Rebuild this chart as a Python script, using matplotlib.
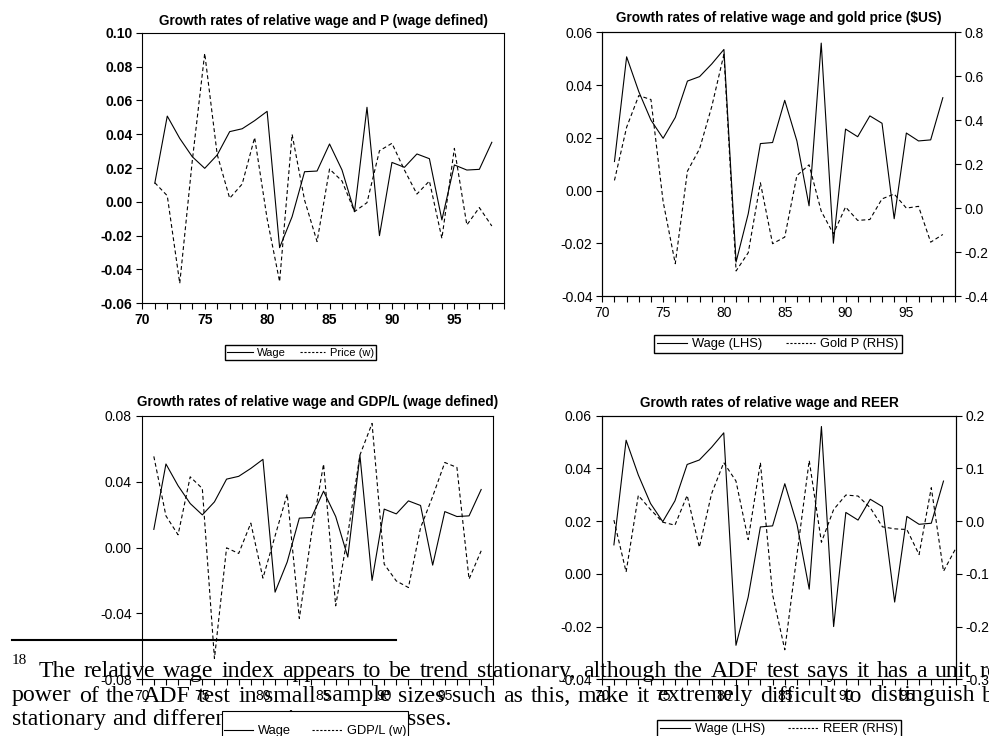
import matplotlib.pyplot as plt
from matplotlib.ticker import MultipleLocator, FormatStrFormatter
from matplotlib.lines import Line2D
from matplotlib.patches import Rectangle

# annual data, 1971-1998 (years shown as 2 digits like in EViews)
years = list(range(71, 99))
wage = [0.011, 0.0507, 0.0375, 0.0267, 0.0198, 0.0277, 0.0415, 0.0432, 0.048, 0.0535,
        -0.0271, -0.0088, 0.0178, 0.0182, 0.0342, 0.0188, -0.0058, 0.0559, -0.020, 0.0233,
        0.0204, 0.0283, 0.0255, -0.0107, 0.0218, 0.0188, 0.0192, 0.0352]
price_w = [0.0113, 0.0036, -0.0482, 0.024, 0.0878, 0.028, 0.0021, 0.0105, 0.038, -0.010,
           -0.0472, 0.0399, 0.001, -0.0235, 0.0194, 0.0123, -0.0058, -0.0005, 0.0302, 0.0346,
           0.0188, 0.0046, 0.0123, -0.0216, 0.0316, -0.0137, -0.0034, -0.0143]
gold_p = [0.126, 0.368, 0.512, 0.494, 0.03, -0.253, 0.168, 0.27, 0.462, 0.70,
          -0.286, -0.203, 0.115, -0.162, -0.132, 0.148, 0.197, -0.014, -0.117, 0.005,
          -0.056, -0.052, 0.042, 0.064, 0.0, 0.008, -0.155, -0.12]
gdp_l = [0.0553, 0.0192, 0.0077, 0.0429, 0.0358, -0.0674, -0.0002, -0.0036, 0.0148, -0.0186,
         0.007, 0.0324, -0.0431, 0.008, 0.0506, -0.0354, 0.008, 0.0561, 0.0753, -0.0101,
         -0.0203, -0.0243, 0.012, 0.031, 0.0516, 0.0486, -0.0192, -0.002]
reer_years = list(range(71, 100))
reer = [0.002, -0.0964, 0.0488, 0.022, -0.002, -0.0076, 0.0488, -0.0495, 0.052, 0.111,
        0.076, -0.035, 0.111, -0.1395, -0.244, -0.063, 0.115, -0.040, 0.022, 0.0495,
        0.0476, 0.0254, -0.0108, -0.0146, -0.0159, -0.0634, 0.0634, -0.0951, -0.052]

footnote = ["The relative wage index appears to be trend stationary, although the ADF test says it has a unit root. The low",
            "power of the ADF test in small sample sizes such as this, make it extremely difficult to distinguish between trend",
            "stationary and difference stationary processes."]

W, H = 989, 736
fig = plt.figure(figsize=(W / 100, H / 100), dpi=100)
plt.rcParams['font.family'] = ['Liberation Sans', 'DejaVu Sans']

DASH = (0, (3.5, 2.5))


def add_box(l, t, r, b):
    return fig.add_axes([l / W, 1 - b / H, (r - l) / W, (b - t) / H])


def style(ax, ylo, yhi, step, fmt, bold=False):
    ax.set_xlim(70, 99)
    ax.set_ylim(ylo, yhi)
    ax.xaxis.set_major_locator(MultipleLocator(5))
    ax.xaxis.set_minor_locator(MultipleLocator(1))
    ax.yaxis.set_major_locator(MultipleLocator(step))
    ax.yaxis.set_major_formatter(FormatStrFormatter(fmt))
    wt = 'bold' if bold else 'normal'
    ax.tick_params(axis='both', which='both', direction='out', length=4, width=0.8,
                   labelsize=10, pad=3)
    ax.tick_params(axis='x', which='both', top=False)
    ax.tick_params(axis='y', right=False)
    for lab in ax.get_xticklabels() + ax.get_yticklabels():
        lab.set_fontweight(wt)
    for s in ax.spines.values():
        s.set_linewidth(0.8)


def right_axis(ax, ylo, yhi, step):
    axr = ax.twinx()
    axr.set_ylim(ylo, yhi)
    axr.yaxis.set_major_locator(MultipleLocator(step))
    axr.yaxis.set_major_formatter(FormatStrFormatter('%.1f'))
    axr.tick_params(axis='y', direction='out', length=4, width=0.8, labelsize=10, pad=3)
    return axr


def legend(handles, labels, cx, cy, size, spacing, frame=True):
    fig.legend(handles, labels, loc='center', bbox_to_anchor=(cx / W, 1 - cy / H),
               fontsize=size, frameon=frame, fancybox=False, edgecolor='black',
               framealpha=1, ncol=2, handlelength=2.3, handletextpad=0.4,
               columnspacing=spacing, borderpad=0.25, borderaxespad=0)


# top-left: wage and P
ax1 = add_box(142.3, 32.7, 504.3, 303.3)
ax1.plot(years, wage, color='black', lw=0.8)
ax1.plot(years, price_w, color='black', lw=0.8, ls=DASH)
style(ax1, -0.06, 0.10, 0.02, '%.2f', bold=True)
ax1.set_title('Growth rates of relative wage and P (wage defined)', fontsize=9.8,
              fontweight='bold', pad=5.5)

# top-right: wage and gold price
ax2 = add_box(602.3, 32.3, 955, 296)
ax2.plot(years, wage, color='black', lw=0.8)
style(ax2, -0.04, 0.06, 0.02, '%.2f')
ax2r = right_axis(ax2, -0.4, 0.8, 0.2)
ax2r.plot(years, gold_p, color='black', lw=0.8, ls=DASH)
ax2.set_title('Growth rates of relative wage and gold price ($US)', fontsize=9.8,
              fontweight='bold', pad=7.6)

# bottom-left: wage and GDP/L
ax3 = add_box(141.7, 415.7, 493.3, 679.3)
ax3.plot(years, wage, color='black', lw=0.8)
ax3.plot(years, gdp_l, color='black', lw=0.8, ls=DASH)
style(ax3, -0.08, 0.08, 0.04, '%.2f')
ax3.set_title('Growth rates of relative wage and GDP/L (wage defined)', fontsize=9.8,
              fontweight='bold', pad=7.2)

# bottom-right: wage and REER
ax4 = add_box(601.7, 415.7, 955.7, 679.3)
ax4.plot(years, wage, color='black', lw=0.8)
style(ax4, -0.04, 0.06, 0.02, '%.2f')
ax4r = right_axis(ax4, -0.3, 0.2, 0.1)
ax4r.plot(reer_years, reer, color='black', lw=0.8, ls=DASH)
ax4.set_title('Growth rates of relative wage and REER', fontsize=9.8,
              fontweight='bold', pad=6, x=0.475)

# footnote text from the page, lying over the charts (justified lines)
fig.add_artist(Line2D([11.7 / W, 396 / W], [1 - 639.5 / H, 1 - 639.5 / H],
                      color='black', lw=1.5))
serif = ['Liberation Serif', 'DejaVu Serif']
FN_SIZE = 17.2
fig.text(12 / W, 1 - 664 / H, '18', family=serif, fontsize=11, va='baseline')

renderer = fig.canvas.get_renderer()


def put_line(text, x0, base, anchor_word=None, anchor_x=None):
    words = text.split(' ')
    objs = [fig.text(0, 1 - base / H, w, family=serif, fontsize=FN_SIZE, va='baseline')
            for w in words]
    widths = [o.get_window_extent(renderer).width for o in objs]
    t2 = fig.text(0, 0, 'a a', family=serif, fontsize=FN_SIZE)
    t1 = fig.text(0, 0, 'aa', family=serif, fontsize=FN_SIZE)
    gap = t2.get_window_extent(renderer).width - t1.get_window_extent(renderer).width
    t2.remove()
    t1.remove()
    if anchor_word is not None:
        k = words.index(anchor_word)
        gap = (anchor_x - x0 - sum(widths[:k])) / k
    x = x0
    for o, w in zip(objs, widths):
        o.set_x(x / W)
        x += w + gap


put_line(footnote[0], 39, 677, 'unit', 935)
put_line(footnote[1], 12, 701.5, 'distinguish', 870)
put_line(footnote[2], 12, 725)

# legends (drawn on top of the footnote)
solid = Line2D([], [], color='black', lw=0.8)
dashed = Line2D([], [], color='black', lw=0.8, ls=(0, (2, 1.5)))
legend([solid, dashed], ['Wage', 'Price (w)'], 300.5, 352.5, 8, 1.2)
legend([solid, dashed], ['Wage (LHS)', 'Gold P (RHS)'], 778, 344, 9.3, 1.8)
# the GDP/L legend box is tall and hides part of the last footnote line
fig.add_artist(Rectangle((222 / W, 1 - 745 / H), 186 / W, 34 / H, transform=fig.transFigure,
                         facecolor='white', edgecolor='black', lw=0.8, zorder=4))
legend([solid, dashed], ['Wage', 'GDP/L (w)'], 315, 731, 9.3, 1.6, frame=False)
legend([solid, dashed], ['Wage (LHS)', 'REER (RHS)'], 779, 729, 9.3, 1.8)

plt.savefig('out.png', dpi=100)
